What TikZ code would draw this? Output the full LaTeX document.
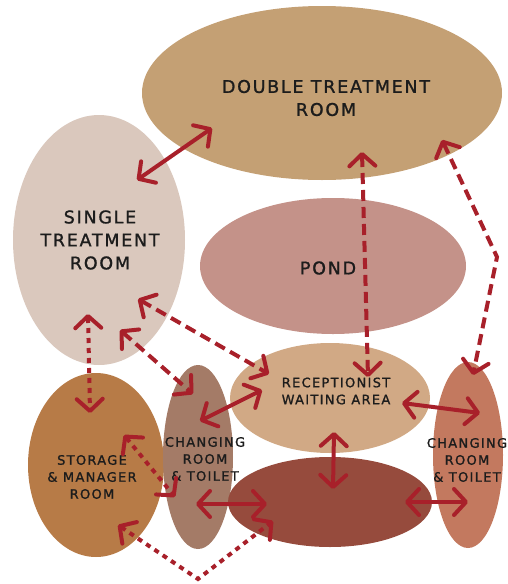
\documentclass[tikz,border=0pt]{standalone}
\usepackage{fontspec}
\newfontfamily\labfont[LetterSpace=10,FakeBold=1.2]{DejaVu Sans}
\usetikzlibrary{arrows.meta,shapes.geometric}
\definecolor{cDouble}{HTML}{C4A074}
\definecolor{cSingle}{HTML}{DAC8BD}
\definecolor{cPond}{HTML}{C49289}
\definecolor{cRecep}{HTML}{D1A985}
\definecolor{cDark}{HTML}{964B3D}
\definecolor{cRight}{HTML}{C3795F}
\definecolor{cStorage}{HTML}{B77B47}
\definecolor{cMid}{HTML}{A47B67}
\definecolor{cArrow}{HTML}{A8202A}
\definecolor{cText}{HTML}{1C1C1C}
\begin{document}
\begin{tikzpicture}[x=1pt,y=-1pt,
  room/.style={ellipse, draw=none, inner sep=0pt},
  lab/.style={align=center, text=cText, inner sep=0pt},
  bigtext/.style={lab, font=\labfont\fontsize{17.5}{23}\selectfont},
  smalltext/.style={lab, font=\labfont\fontsize{13}{17}\selectfont},
  tip/.tip={Straight Barb[length=12pt,width=26pt,line cap=round,line join=round]},
  link/.style={draw=cArrow, line width=4pt, tip-tip},
  dashedlink/.style={link, dash pattern=on 11pt off 6pt},
  dottedlink/.style={link, dash pattern=on 5pt off 5pt}]
\useasboundingbox (0,0) rectangle (508,584);

% rooms
\node[room, fill=cDouble, minimum width=360pt, minimum height=174pt] (double) at (322,93) {};
\node[room, fill=cSingle, minimum width=172pt, minimum height=250pt] (single) at (99,240) {};
\node[room, fill=cPond, minimum width=266pt, minimum height=136pt] (pond) at (333,266) {};
\node[room, fill=cStorage, minimum width=136pt, minimum height=184pt] (storage) at (96,465) {};
\node[room, fill=cMid, minimum width=70pt, minimum height=184pt] (midchg) at (198,457) {};
\node[room, fill=cRight, minimum width=70pt, minimum height=186pt] (rightchg) at (468,455) {};
\node[room, fill=cDark, minimum width=204pt, minimum height=90pt] (dark) at (330,502) {};
\node[room, fill=cRecep, minimum width=200pt, minimum height=110pt] (recep) at (330,398) {};

% labels
\node[bigtext] (tdouble) at (326,98) {DOUBLE TREATMENT\\ROOM};
\node[bigtext] (tsingle) at (100,240) {SINGLE\\TREATMENT\\ROOM};
\node[bigtext] (tpond) at (328,268) {POND};
\node[smalltext] (trecep) at (336,391) {RECEPTIONIST\\WAITING AREA};
\node[smalltext] (tmid) at (205,459) {CHANGING\\ROOM\\\& TOILET};
\node[smalltext] (tright) at (467,460) {CHANGING\\ROOM\\\& TOILET};
\node[smalltext] (tstorage) at (92,477) {STORAGE\\\& MANAGER\\ROOM};

% connector end points
\coordinate (a1s) at (137,180);  \coordinate (a1d) at (212,128);
\coordinate (a2d) at (362,152);  \coordinate (a2r) at (368,377);
\coordinate (a3d) at (442,140);  \coordinate (a3b) at (497,257);  \coordinate (a3r) at (473,375);
\coordinate (a4s) at (138,299);  \coordinate (a4r) at (269,374);
\coordinate (a5s) at (120,330);  \coordinate (a5m) at (193,394);
\coordinate (a6s) at (88,314);   \coordinate (a6t) at (90,413);
\coordinate (a7m) at (200,421);  \coordinate (a7r) at (262,390);
\coordinate (a8t) at (124,435);  \coordinate (a8m) at (175,497);
\coordinate (a9m) at (196,504);  \coordinate (a9d) at (267,504);
\coordinate (a10r) at (334,432); \coordinate (a10d) at (333,489);
\coordinate (a11r) at (402,403); \coordinate (a11c) at (480,413);
\coordinate (a12d) at (405,502); \coordinate (a12c) at (468,502);
\coordinate (a13t) at (118,525); \coordinate (a13b) at (198,579); \coordinate (a13d) at (273,521);

% connectors
\draw[link] (a1s) -- (a1d);
\draw[dashedlink] (a2d) -- (a2r);
\draw[dashedlink] (a3d) -- (a3b) -- (a3r);
\draw[dashedlink] (a4s) -- (a4r);
\draw[dashedlink] (a5s) -- (a5m);
\draw[dottedlink] (a6s) -- (a6t);
\draw[link] (a7m) -- (a7r);
\draw[dottedlink] (a8t) -- (a8m);
\draw[link] (a9m) -- (a9d);
\draw[link] (a10r) -- (a10d);
\draw[link] (a11r) -- (a11c);
\draw[link] (a12d) -- (a12c);
\draw[dottedlink] (a13t) -- (a13b) -- (a13d);
\end{tikzpicture}
\end{document}
